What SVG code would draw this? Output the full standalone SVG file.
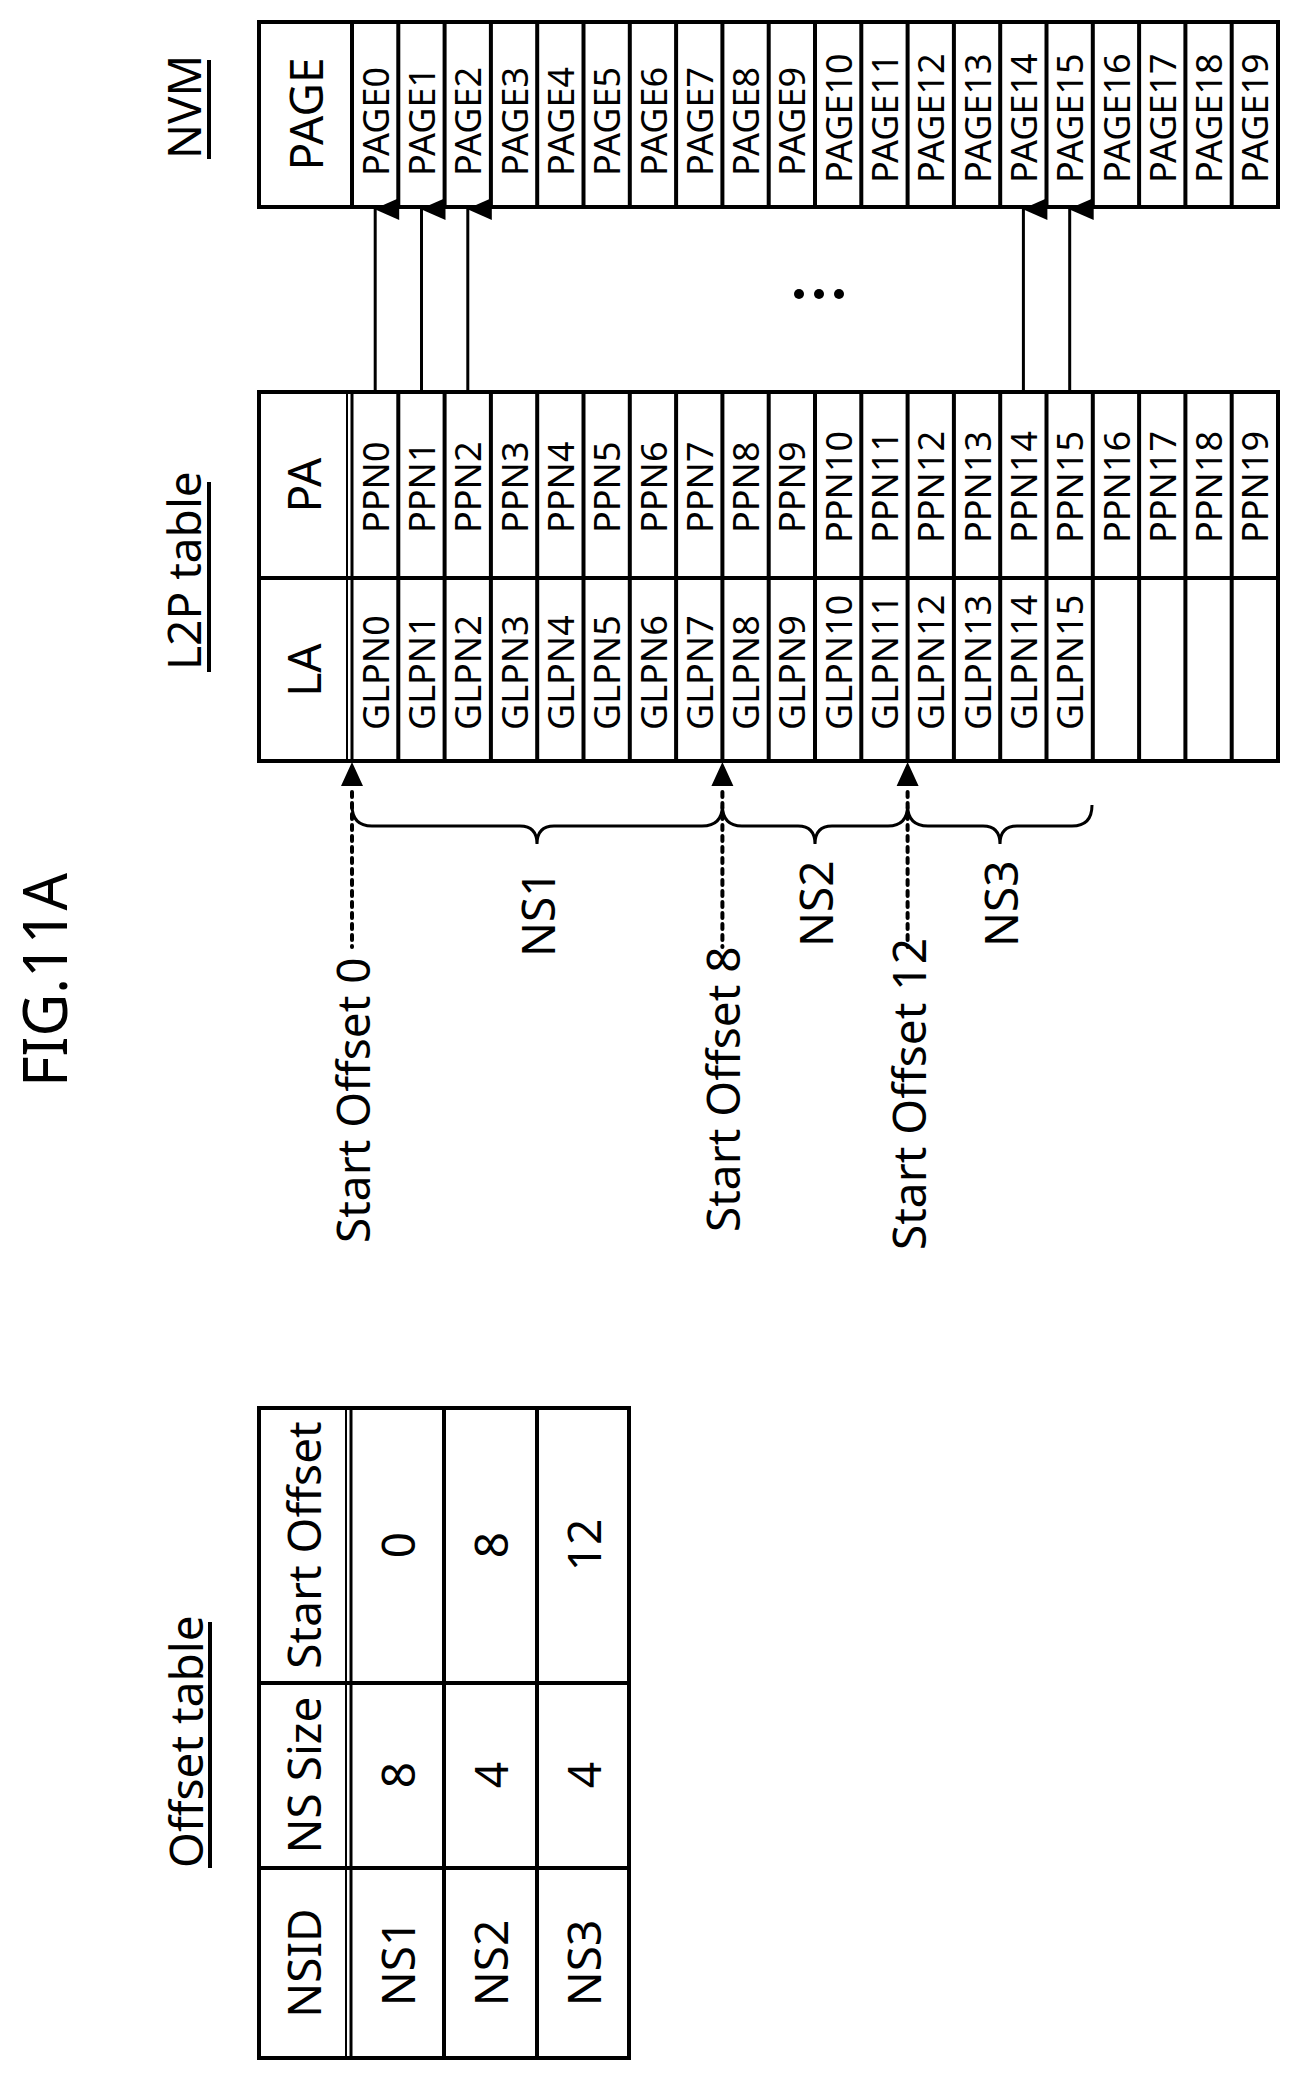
<svg xmlns="http://www.w3.org/2000/svg" width="1300" height="2076" viewBox="0 0 1300 2076">
<style>
.b{fill:none;stroke:#000;stroke-width:4}
.t{font-family:"Noto Sans","DejaVu Sans",sans-serif;fill:#000}
.c{font-size:36px}
.h{font-size:46px}
.a{stroke:#000;stroke-width:3;fill:none}
.d{stroke:#000;stroke-width:4;stroke-dasharray:5 6;stroke-linecap:round;fill:none}
.br{stroke:#000;stroke-width:3;fill:none}
</style>
<defs>
<marker id="ah" markerUnits="userSpaceOnUse" markerWidth="24" markerHeight="26" refX="12" refY="1" orient="auto-start-reverse" viewBox="0 0 24 26">
<path d="M12,0 L23,25 L1,25 Z" fill="#000" transform="rotate(0)"/>
</marker>
</defs>
<g id="title"><text class="t" transform="translate(67,1087) rotate(-90)" font-size="62" font-family="Liberation Sans Narrow,Liberation Sans,sans-serif" textLength="214" lengthAdjust="spacingAndGlyphs">FIG.11A</text></g>
<g id="labels">
<text class="t h" transform="translate(201,159) rotate(-90)">NVM</text>
<line x1="209" y1="60" x2="209" y2="159" class="b"/>
<text class="t h" transform="translate(201,670) rotate(-90)">L2P table</text>
<line x1="209" y1="482" x2="209" y2="672" class="b"/>
<text class="t h" transform="translate(203,1868) rotate(-90)">Offset table</text>
<line x1="210" y1="1622" x2="210" y2="1868" class="b"/>
</g>
<g id="nvm">
<rect x="259" y="22" width="1019" height="185" class="b"/>
<line x1="352" y1="22" x2="352" y2="207" class="b"/>
<text class="t h" transform="translate(305,114) rotate(-90)" text-anchor="middle" dominant-baseline="central">PAGE</text>
</g>
<g id="l2p">
<rect x="259" y="392" width="1019" height="369" class="b"/>
<line x1="259" y1="578" x2="1278" y2="578" class="b"/>
<line x1="347" y1="392" x2="347" y2="761" stroke="#000" stroke-width="2"/>
<line x1="352" y1="392" x2="352" y2="761" stroke="#000" stroke-width="3"/>
<text class="t h" transform="translate(303,485) rotate(-90)" text-anchor="middle" dominant-baseline="central">PA</text>
<text class="t h" transform="translate(303,670) rotate(-90)" text-anchor="middle" dominant-baseline="central">LA</text>
</g>
<g id="cells">
<path class="b" d="M398.3,22V207M444.6,22V207M490.9,22V207M537.2,22V207M583.5,22V207M629.8,22V207M676.1,22V207M722.4,22V207M768.7,22V207M815,22V207M861.3,22V207M907.6,22V207M953.9,22V207M1000.2,22V207M1046.5,22V207M1092.8,22V207M1139.1,22V207M1185.4,22V207M1231.7,22V207"/>
<path class="b" d="M398.3,392V761M444.6,392V761M490.9,392V761M537.2,392V761M583.5,392V761M629.8,392V761M676.1,392V761M722.4,392V761M768.7,392V761M815,392V761M861.3,392V761M907.6,392V761M953.9,392V761M1000.2,392V761M1046.5,392V761M1092.8,392V761M1139.1,392V761M1185.4,392V761M1231.7,392V761"/>
<g class="t c" dominant-baseline="central">
<text transform="translate(375.2,176) rotate(-90)">PAGE0</text>
<text transform="translate(421.5,176) rotate(-90)">PAGE1</text>
<text transform="translate(467.8,176) rotate(-90)">PAGE2</text>
<text transform="translate(514.1,176) rotate(-90)">PAGE3</text>
<text transform="translate(560.4,176) rotate(-90)">PAGE4</text>
<text transform="translate(606.7,176) rotate(-90)">PAGE5</text>
<text transform="translate(653,176) rotate(-90)">PAGE6</text>
<text transform="translate(699.3,176) rotate(-90)">PAGE7</text>
<text transform="translate(745.6,176) rotate(-90)">PAGE8</text>
<text transform="translate(791.9,176) rotate(-90)">PAGE9</text>
<text transform="translate(838.2,183) rotate(-90)">PAGE10</text>
<text transform="translate(884.5,183) rotate(-90)">PAGE11</text>
<text transform="translate(930.8,183) rotate(-90)">PAGE12</text>
<text transform="translate(977.1,183) rotate(-90)">PAGE13</text>
<text transform="translate(1023.4,183) rotate(-90)">PAGE14</text>
<text transform="translate(1069.7,183) rotate(-90)">PAGE15</text>
<text transform="translate(1116,183) rotate(-90)">PAGE16</text>
<text transform="translate(1162.3,183) rotate(-90)">PAGE17</text>
<text transform="translate(1208.6,183) rotate(-90)">PAGE18</text>
<text transform="translate(1254.9,183) rotate(-90)">PAGE19</text>
<text transform="translate(375.2,533) rotate(-90)">PPN0</text>
<text transform="translate(421.5,533) rotate(-90)">PPN1</text>
<text transform="translate(467.8,533) rotate(-90)">PPN2</text>
<text transform="translate(514.1,533) rotate(-90)">PPN3</text>
<text transform="translate(560.4,533) rotate(-90)">PPN4</text>
<text transform="translate(606.7,533) rotate(-90)">PPN5</text>
<text transform="translate(653,533) rotate(-90)">PPN6</text>
<text transform="translate(699.3,533) rotate(-90)">PPN7</text>
<text transform="translate(745.6,533) rotate(-90)">PPN8</text>
<text transform="translate(791.9,533) rotate(-90)">PPN9</text>
<text transform="translate(838.2,543) rotate(-90)">PPN10</text>
<text transform="translate(884.5,543) rotate(-90)">PPN11</text>
<text transform="translate(930.8,543) rotate(-90)">PPN12</text>
<text transform="translate(977.1,543) rotate(-90)">PPN13</text>
<text transform="translate(1023.4,543) rotate(-90)">PPN14</text>
<text transform="translate(1069.7,543) rotate(-90)">PPN15</text>
<text transform="translate(1116,543) rotate(-90)">PPN16</text>
<text transform="translate(1162.3,543) rotate(-90)">PPN17</text>
<text transform="translate(1208.6,543) rotate(-90)">PPN18</text>
<text transform="translate(1254.9,543) rotate(-90)">PPN19</text>
<text transform="translate(375.2,730) rotate(-90)">GLPN0</text>
<text transform="translate(421.5,730) rotate(-90)">GLPN1</text>
<text transform="translate(467.8,730) rotate(-90)">GLPN2</text>
<text transform="translate(514.1,730) rotate(-90)">GLPN3</text>
<text transform="translate(560.4,730) rotate(-90)">GLPN4</text>
<text transform="translate(606.7,730) rotate(-90)">GLPN5</text>
<text transform="translate(653,730) rotate(-90)">GLPN6</text>
<text transform="translate(699.3,730) rotate(-90)">GLPN7</text>
<text transform="translate(745.6,730) rotate(-90)">GLPN8</text>
<text transform="translate(791.9,730) rotate(-90)">GLPN9</text>
<text transform="translate(838.2,730) rotate(-90)">GLPN10</text>
<text transform="translate(884.5,730) rotate(-90)">GLPN11</text>
<text transform="translate(930.8,730) rotate(-90)">GLPN12</text>
<text transform="translate(977.1,730) rotate(-90)">GLPN13</text>
<text transform="translate(1023.4,730) rotate(-90)">GLPN14</text>
<text transform="translate(1069.7,730) rotate(-90)">GLPN15</text>
</g>
</g>
<g id="connectors">
<line class="a" x1="375.2" y1="392" x2="375.2" y2="209" marker-end="url(#ah)"/>
<line class="a" x1="421.5" y1="392" x2="421.5" y2="209" marker-end="url(#ah)"/>
<line class="a" x1="467.8" y1="392" x2="467.8" y2="209" marker-end="url(#ah)"/>
<line class="a" x1="1023.4" y1="392" x2="1023.4" y2="209" marker-end="url(#ah)"/>
<line class="a" x1="1069.7" y1="392" x2="1069.7" y2="209" marker-end="url(#ah)"/>
<path d="M352,762 L363,786 L341,786 Z M722.4,762 L733.4,786 L711.4,786 Z M907.6,762 L918.6,786 L896.6,786 Z" fill="#000"/>
<path class="d" d="M352,792V947M722.4,792V947M907.6,792V947"/>
<path class="br" d="M352,805 Q352,826 372,826 H520 Q537,826 537,844 Q537,826 554,826 H702 Q722.4,826 722.4,805 Q722.4,826 742,826 H798 Q815,826 815,844 Q815,826 832,826 H888 Q907.6,826 907.6,805 Q907.6,826 928,826 H983 Q1000,826 1000,844 Q1000,826 1017,826 H1072 Q1092,826 1092,805"/>
</g>
<g id="dots"><circle cx="799" cy="294" r="5"/><circle cx="819" cy="294" r="5"/><circle cx="839" cy="294" r="5"/></g>
<g id="offset-labels" class="t h" dominant-baseline="central">
<text transform="translate(352,1243) rotate(-90)">Start Offset 0</text>
<text transform="translate(722.4,1232) rotate(-90)">Start Offset 8</text>
<text transform="translate(907.6,1250) rotate(-90)">Start Offset 12</text>
<text transform="translate(537,957) rotate(-90)">NS1</text>
<text transform="translate(815,947) rotate(-90)">NS2</text>
<text transform="translate(1000,947) rotate(-90)">NS3</text>
</g>
<g id="offset-table">
<rect x="259" y="1408" width="370" height="650" class="b"/>
<line x1="346" y1="1408" x2="346" y2="2058" stroke="#000" stroke-width="2"/>
<line x1="351" y1="1408" x2="351" y2="2058" stroke="#000" stroke-width="3"/>
<path class="b" d="M444,1408V2058M537,1408V2058M259,1683H629M259,1868H629"/>
<g class="t h" text-anchor="middle" dominant-baseline="central">
<text transform="translate(303,1963) rotate(-90)">NSID</text>
<text transform="translate(303,1775) rotate(-90)">NS Size</text>
<text transform="translate(303,1545) rotate(-90)">Start Offset</text>
<text transform="translate(397,1963) rotate(-90)">NS1</text>
<text transform="translate(397,1775) rotate(-90)">8</text>
<text transform="translate(397,1545) rotate(-90)">0</text>
<text transform="translate(490,1963) rotate(-90)">NS2</text>
<text transform="translate(490,1775) rotate(-90)">4</text>
<text transform="translate(490,1545) rotate(-90)">8</text>
<text transform="translate(583,1963) rotate(-90)">NS3</text>
<text transform="translate(583,1775) rotate(-90)">4</text>
<text transform="translate(583,1545) rotate(-90)">12</text>
</g>
</g>
</svg>
